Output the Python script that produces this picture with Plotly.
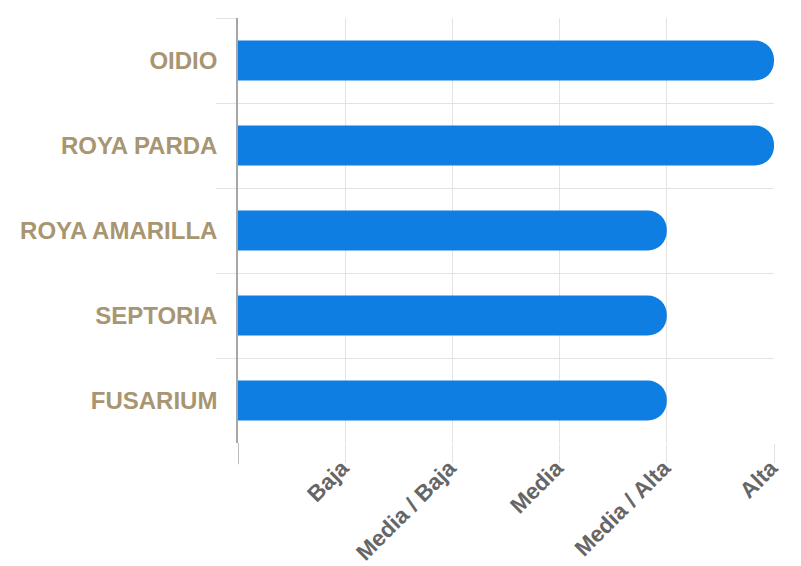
import plotly.graph_objects as go

categories = ["OIDIO", "ROYA PARDA", "ROYA AMARILLA", "SEPTORIA", "FUSARIUM"]
values = [5, 5, 4, 4, 4]
tick_values = [1, 2, 3, 4, 5]
tick_labels = ["Baja", "Media / Baja", "Media", "Media / Alta", "Alta"]

fig = go.Figure(
    go.Bar(
        x=values,
        y=categories,
        orientation="h",
        marker=dict(color="#0F7EE3", cornerradius=20, line=dict(width=0)),
        width=0.47,
        hoverinfo="skip",
    )
)

fig.update_layout(
    width=793,
    height=558,
    margin=dict(l=230, r=27, t=10, b=123),
    paper_bgcolor="white",
    plot_bgcolor="white",
    showlegend=False,
    font=dict(family="Liberation Sans, Arial, sans-serif"),
)

fig.update_yaxes(
    type="category",
    categoryorder="array",
    categoryarray=categories,
    autorange="reversed",
    automargin=False,
    tickson="boundaries",
    ticks="outside",
    ticklen=20,
    tickcolor="#e3e3e3",
    tickwidth=1,
    ticklabelstandoff=14,
    showgrid=True,
    gridcolor="#e3e3e3",
    gridwidth=1,
    showline=True,
    linecolor="#a6a6a6",
    linewidth=1.5,
    tickfont=dict(family="Liberation Sans, Arial, sans-serif", size=24, color="#A89572", weight="bold"),
)

fig.update_xaxes(
    range=[0, 5],
    automargin=False,
    tickmode="array",
    tickvals=tick_values,
    ticktext=tick_labels,
    tickangle=-45,
    ticks="outside",
    ticklen=19,
    tickcolor="#e3e3e3",
    ticklabelstandoff=-17,
    ticklabelshift=-3,
    showgrid=True,
    gridcolor="#e3e3e3",
    gridwidth=1,
    zeroline=False,
    showline=False,
    tickfont=dict(family="Liberation Sans, Arial, sans-serif", size=22.5, color="#666666", weight="bold"),
)

# extension of the left axis below the plot area
fig.add_shape(
    type="line", xref="x", yref="paper",
    x0=0, x1=0, y0=0, y1=-0.05,
    line=dict(color="#a6a6a6", width=1.5),
)

fig.write_html("out.html")
